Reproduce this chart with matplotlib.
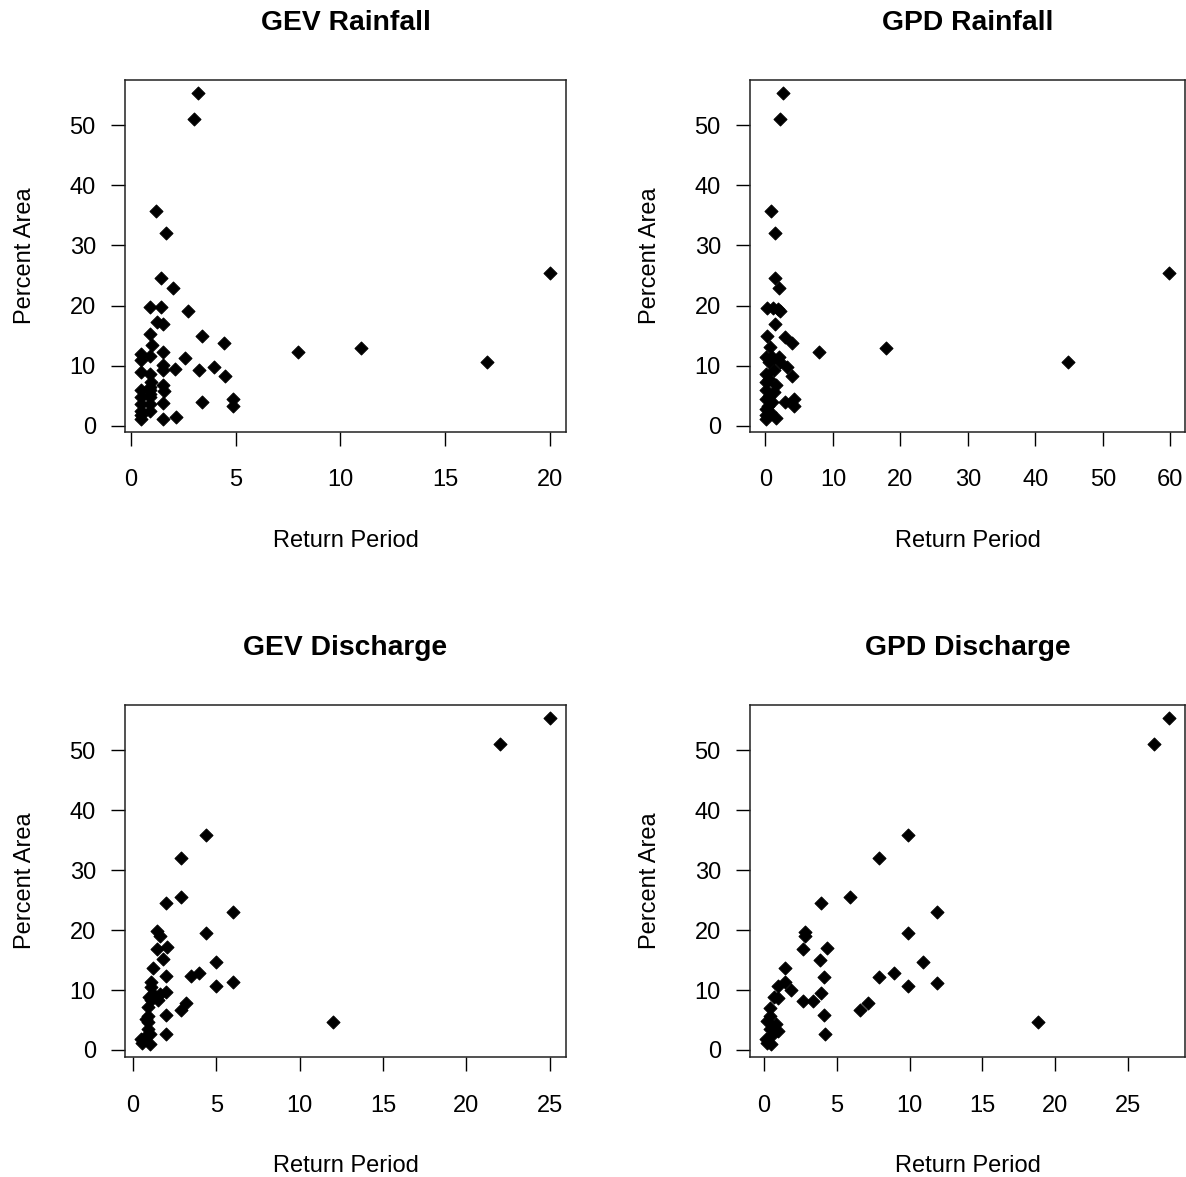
import matplotlib
matplotlib.use("Agg")
import matplotlib.pyplot as plt

plt.rcParams['font.family'] = ['Liberation Sans', 'DejaVu Sans']

# GEV rainfall: return period vs percent area
gev_rain_rp = [3.2, 3.0, 1.2, 1.7, 1.45, 2.0, 0.9, 1.45, 2.75, 1.25, 1.55, 0.9, 1.0,
               3.4, 4.45, 8.0, 11.0, 17.0, 20.0, 0.5, 0.5, 0.9, 1.55, 2.6, 1.55, 1.55,
               2.1, 3.25, 3.95, 4.5, 0.5, 0.9, 0.95, 1.55, 1.6, 0.5, 0.5, 0.5, 0.5,
               0.5, 0.5, 0.9, 0.9, 0.9, 0.9, 1.55, 3.4, 4.9, 4.9, 1.55, 2.15, 0.9, 0.9]
gev_rain_area = [55.4, 51.0, 35.8, 32.1, 24.6, 23.0, 19.8, 19.8, 19.1, 17.3, 16.9, 15.2, 13.5,
                 14.9, 13.8, 12.2, 12.9, 10.6, 25.5, 11.9, 10.9, 11.6, 12.3, 11.3, 10.1, 9.2,
                 9.5, 9.2, 9.75, 8.2, 8.9, 8.6, 7.2, 6.8, 5.8, 5.9, 4.7, 3.6, 2.5,
                 1.7, 1.1, 5.9, 4.7, 3.6, 2.5, 3.7, 3.9, 4.5, 3.2, 1.1, 1.4, 6.5, 5.2]

# GPD rainfall
gpd_rain_rp = [2.55, 2.2, 0.8, 1.4, 1.4, 1.95, 0.25, 1.1, 2.2, 1.8, 1.4, 0.25, 2.85,
               3.9, 7.9, 17.8, 44.8, 59.8, 0.7, 0.1, 1.0, 1.95, 0.5, 2.2, 3.2, 3.9,
               0.1, 1.2, 0.1, 1.5, 0.1, 1.2, 0.1, 1.0, 2.9, 4.2, 4.2, 0.1, 0.1,
               0.1, 1.5, 0.7, 0.5, 0.6, 0.4]
gpd_rain_area = [55.4, 51.0, 35.8, 32.1, 24.6, 23.0, 19.6, 19.6, 19.1, 19.4, 16.9, 15.0, 14.7,
                 13.8, 12.2, 12.9, 10.6, 25.5, 13.1, 11.4, 11.4, 11.4, 10.6, 10.6, 9.75, 8.2,
                 8.6, 9.2, 7.2, 6.7, 5.9, 5.6, 4.5, 3.9, 3.9, 4.5, 3.2, 2.8, 1.7,
                 1.1, 1.3, 2.2, 7.8, 5.0, 3.3]

# GEV discharge
gev_dis_rp = [25.0, 22.0, 4.4, 2.9, 2.9, 1.95, 6.0, 1.45, 1.6, 4.4, 1.45, 2.05, 1.8,
              4.95, 1.2, 3.45, 3.95, 6.0, 4.95, 1.95, 1.1, 1.05, 1.95, 1.6, 1.5, 0.95,
              2.9, 3.15, 1.95, 1.95, 12.0, 0.9, 0.9, 0.9, 0.9, 1.0, 1.0, 0.5, 0.55,
              0.7, 1.2, 1.1, 0.8]
gev_dis_area = [55.4, 51.1, 35.8, 32.1, 25.6, 24.6, 23.1, 19.8, 19.0, 19.6, 16.9, 17.2, 15.1,
                14.7, 13.7, 12.3, 12.8, 11.3, 10.6, 12.3, 11.3, 10.5, 9.65, 9.4, 8.3, 8.9,
                6.6, 7.9, 5.9, 2.6, 4.7, 7.1, 5.7, 4.6, 3.5, 2.7, 1.0, 1.8, 1.1,
                2.1, 9.4, 8.3, 5.2]

# GPD discharge
gpd_dis_rp = [27.8, 26.8, 9.9, 7.9, 5.9, 3.9, 11.9, 2.8, 2.85, 9.9, 2.7, 4.35, 3.85,
              10.9, 1.45, 4.1, 7.9, 8.9, 9.9, 11.9, 1.45, 0.95, 1.85, 0.7, 1.0, 2.7,
              3.35, 3.9, 6.6, 7.15, 4.15, 4.2, 18.8, 0.45, 0.4, 0.85, 0.95, 0.2, 0.15,
              0.5, 0.2, 0.4, 0.65]
gpd_dis_area = [55.4, 51.1, 35.8, 32.1, 25.6, 24.6, 23.1, 19.7, 19.1, 19.6, 16.9, 17.1, 15.0,
                14.7, 13.7, 12.2, 12.2, 12.8, 10.7, 11.2, 11.3, 10.7, 10.0, 8.8, 8.7, 8.1,
                8.1, 9.5, 6.6, 7.8, 5.9, 2.6, 4.7, 7.0, 5.7, 4.35, 3.2, 4.9, 1.8,
                1.0, 1.1, 3.5, 2.7]

panels = [
    ("GEV Rainfall", gev_rain_rp, gev_rain_area, [0, 5, 10, 15, 20], (125, 80, 566, 432)),
    ("GPD Rainfall", gpd_rain_rp, gpd_rain_area, [0, 10, 20, 30, 40, 50, 60], (750, 80, 1185, 432)),
    ("GEV Discharge", gev_dis_rp, gev_dis_area, [0, 5, 10, 15, 20, 25], (125, 705, 566, 1057)),
    ("GPD Discharge", gpd_dis_rp, gpd_dis_area, [0, 5, 10, 15, 20, 25], (750, 705, 1185, 1057)),
]

W, H = 1186, 1177
fig = plt.figure(figsize=(W / 100, H / 100), dpi=100)

for title, rp, area, xticks, (l, t, r, b) in panels:
    ax = fig.add_axes([l / W, 1 - b / H, (r - l) / W, (b - t) / H])
    ax.scatter(rp, area, marker='D', s=44, color='black', linewidths=0.7, zorder=3)
    ax.margins(0.04)
    ax.set_xticks(xticks)
    ax.set_yticks([0, 10, 20, 30, 40, 50])
    ax.tick_params(length=10, width=1, labelsize=17, colors='black')
    ax.tick_params(axis='x', pad=17)
    ax.tick_params(axis='y', pad=11)
    for sp in ax.spines.values():
        sp.set_linewidth(1.1)
        sp.set_color('#222222')
    ax.set_title(title, fontsize=20.3, fontweight='bold', pad=36)
    ax.set_xlabel('Return Period', fontsize=17)
    ax.set_ylabel('Percent Area', fontsize=17)
    # label positions in axes fractions, measured in pixels from the box
    ax.xaxis.set_label_coords(0.5, -98 / (b - t))
    ax.yaxis.set_label_coords(-89 / (r - l), 0.5)

fig.savefig('out.png', dpi=100)
